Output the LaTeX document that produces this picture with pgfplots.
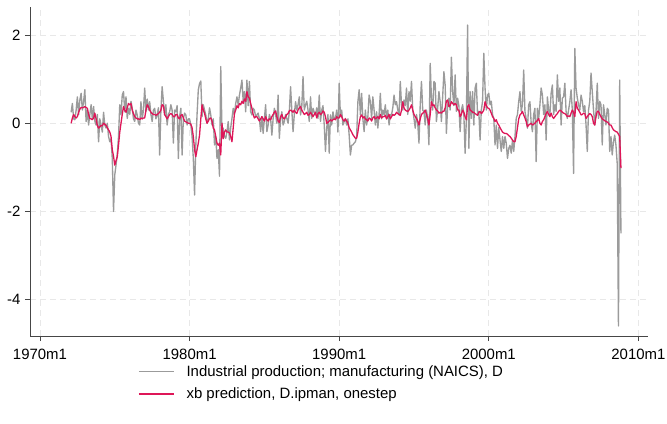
\documentclass[border=0pt]{standalone}
\usepackage{fontspec}
\setmainfont{Liberation Sans}
\usepackage{pgfplots}
\pgfplotsset{compat=1.18}
\usepackage{pgfplotstable}

\definecolor{lineGray}{RGB}{155,155,155}
\definecolor{predRed}{RGB}{222,22,88}
\definecolor{gridGray}{RGB}{232,232,232}
\definecolor{axisGray}{RGB}{70,70,70}

% D.ipman, monthly, 1972m2 .. 2008m11 (one line per year)
\pgfplotstableread[row sep=\\]{
v\\
0.25\\ 0.45\\ 0.1\\ 0.08\\ 0.3\\ 0.6\\ 0.2\\ 0.53\\ 0.68\\ 0.3\\ 0.5\\
0.76\\ 0.04\\ 0.3\\ -0.04\\ 0.2\\ 0.42\\ 0.1\\ 0.38\\ 0.05\\ -0.04\\ 0.2\\ -0.42\\
0.1\\ -0.04\\ -0.2\\ 0.25\\ -0.04\\ -0.11\\ 0.0\\ -0.3\\ -0.42\\ -0.35\\ -0.8\\ -2.0\\
-1.17\\ -0.95\\ -0.7\\ -0.3\\ 0.42\\ 0.2\\ 0.64\\ 0.72\\ 0.26\\ 0.6\\ 0.11\\ 0.34\\
0.2\\ 0.5\\ 0.34\\ 0.1\\ 0.04\\ 0.3\\ 0.19\\ 0.0\\ -0.04\\ 0.49\\ 0.1\\ 0.3\\
0.8\\ 0.26\\ 0.55\\ 0.3\\ 0.49\\ 0.2\\ 0.04\\ 0.3\\ 0.34\\ 0.1\\ 0.19\\ 0.35\\
-0.72\\ 0.3\\ 0.83\\ 0.5\\ 0.19\\ 0.42\\ -0.04\\ 0.2\\ 0.26\\ 0.42\\ 0.3\\ -0.45\\
0.3\\ 0.26\\ 0.4\\ -0.8\\ 0.15\\ 0.34\\ -0.72\\ 0.1\\ 0.23\\ 0.19\\ -0.04\\ 0.1\\
0.1\\ -0.04\\ -0.3\\ -0.8\\ -1.63\\ -0.5\\ 0.2\\ 0.76\\ 0.9\\ 0.96\\ 0.15\\ 0.42\\
0.3\\ 0.19\\ 0.0\\ 0.1\\ 0.35\\ 0.19\\ -0.04\\ 0.1\\ -0.49\\ -0.3\\ -0.8\\ -0.6\\
-1.2\\ 1.29\\ -0.19\\ -0.11\\ -0.3\\ -0.34\\ -0.19\\ 0.04\\ -0.38\\ -0.1\\ 0.11\\ 0.34\\
0.2\\ 0.45\\ 0.6\\ 0.42\\ 0.64\\ 0.8\\ 0.98\\ 0.5\\ 0.72\\ 0.26\\ 0.98\\ 0.4\\
0.95\\ 0.26\\ 0.19\\ 0.34\\ 0.3\\ 0.15\\ 0.19\\ 0.23\\ 0.1\\ -0.19\\ 0.15\\ -0.23\\
0.1\\ 0.42\\ -0.19\\ -0.04\\ 0.2\\ 0.11\\ -0.27\\ 0.1\\ 0.34\\ 0.2\\ 0.0\\ 0.64\\
-0.34\\ 0.1\\ 0.26\\ -0.04\\ 0.04\\ 0.2\\ 0.11\\ 0.0\\ 0.26\\ 0.83\\ 0.3\\ -0.19\\
0.2\\ 0.49\\ 0.3\\ 0.42\\ 0.6\\ 0.19\\ 0.38\\ 1.06\\ 0.3\\ 0.42\\ 0.5\\ 0.3\\
0.04\\ 0.6\\ 0.11\\ 0.34\\ 0.25\\ 0.19\\ 0.35\\ 0.11\\ 0.64\\ 0.04\\ 0.3\\ 0.4\\
-0.04\\ -0.64\\ -0.11\\ 0.2\\ -0.68\\ 0.19\\ -0.04\\ 0.26\\ 0.1\\ 0.11\\ 0.3\\ -0.2\\
0.91\\ 0.15\\ 0.3\\ -0.04\\ 0.04\\ 0.11\\ -0.04\\ 0.1\\ -0.27\\ -0.72\\ -0.5\\ -0.49\\
-0.45\\ -0.42\\ -0.3\\ 0.49\\ 0.76\\ 0.19\\ 0.68\\ 0.1\\ -0.19\\ 0.3\\ -0.04\\ 0.15\\
0.64\\ 0.49\\ 0.11\\ 0.6\\ 0.3\\ -0.04\\ 0.26\\ -0.11\\ 0.2\\ 0.68\\ 0.1\\ 0.3\\
0.19\\ 0.42\\ 0.1\\ 0.3\\ -0.04\\ 0.2\\ 0.19\\ 0.35\\ 0.64\\ 0.42\\ 0.49\\ 0.3\\
0.19\\ 0.95\\ 0.42\\ 0.3\\ 0.53\\ 0.4\\ 0.8\\ 0.2\\ 0.72\\ 0.5\\ 0.95\\ 0.3\\
0.11\\ -0.11\\ 0.2\\ 0.0\\ -0.45\\ 0.42\\ 0.95\\ 0.3\\ 0.26\\ -0.04\\ 0.3\\ 0.1\\
-0.49\\ 1.36\\ 0.57\\ 0.3\\ 0.95\\ 0.91\\ 0.04\\ 0.34\\ 0.72\\ 0.49\\ 0.04\\ 0.6\\
1.17\\ 0.87\\ -0.23\\ 0.4\\ 0.57\\ 0.3\\ 1.5\\ 0.72\\ 0.4\\ 1.1\\ 0.27\\ 0.57\\
0.4\\ -0.19\\ 0.3\\ 0.42\\ 0.2\\ -0.68\\ 0.08\\ 2.23\\ -0.57\\ 0.72\\ 0.11\\ 0.72\\
-0.04\\ 0.8\\ 0.91\\ 0.19\\ 0.27\\ -0.38\\ 0.3\\ 0.5\\ 1.59\\ 0.8\\ 0.3\\ 0.64\\
0.68\\ 0.42\\ 0.5\\ 0.2\\ 0.11\\ -0.49\\ -0.04\\ -0.57\\ -0.1\\ -0.38\\ -0.64\\ -0.3\\
-0.57\\ -0.3\\ -0.45\\ -0.8\\ -0.57\\ -0.5\\ -0.68\\ -0.38\\ -0.64\\ -0.3\\ 0.11\\ 0.2\\
0.49\\ 0.72\\ 0.27\\ 0.42\\ 1.21\\ 0.27\\ 0.1\\ -0.11\\ 0.42\\ 0.49\\ 0.0\\ -0.19\\
0.2\\ 0.34\\ -0.87\\ 0.34\\ 0.1\\ 0.42\\ 0.8\\ 0.64\\ 0.2\\ 0.42\\ -0.38\\ 0.6\\
0.3\\ 0.19\\ 0.68\\ 0.87\\ 0.2\\ 0.42\\ 0.27\\ 1.1\\ 0.5\\ 0.8\\ -0.04\\ 0.57\\
0.6\\ 0.91\\ 0.27\\ 0.11\\ 0.3\\ 0.49\\ 0.76\\ 0.3\\ -1.14\\ 1.7\\ 0.8\\ 0.57\\
0.42\\ 0.3\\ 0.64\\ 0.5\\ 0.26\\ 0.4\\ -0.04\\ -0.64\\ 0.3\\ 0.5\\ 1.14\\ 0.72\\
0.3\\ -0.04\\ 0.27\\ 0.91\\ 0.11\\ 0.5\\ 0.42\\ -0.49\\ 0.42\\ 0.2\\ -0.04\\ 0.34\\
0.3\\ -0.64\\ -0.3\\ -0.72\\ -0.42\\ -0.27\\ -0.5\\ -0.91\\ -4.6\\ 0.98\\ -2.5\\
}\ipman

% xb prediction, onestep, same months
\pgfplotstableread[row sep=\\]{
v\\
0.0\\ 0.12\\ 0.2\\ 0.15\\ 0.12\\ 0.15\\ 0.25\\ 0.32\\ 0.36\\ 0.35\\ 0.36\\
0.38\\ 0.36\\ 0.34\\ 0.2\\ 0.11\\ 0.1\\ 0.08\\ 0.12\\ 0.23\\ 0.1\\ -0.05\\ -0.11\\
-0.08\\ -0.05\\ -0.06\\ 0.0\\ -0.02\\ -0.05\\ -0.1\\ -0.15\\ -0.2\\ -0.3\\ -0.6\\ -0.75\\
-0.95\\ -0.85\\ -0.76\\ -0.5\\ -0.2\\ 0.0\\ 0.2\\ 0.38\\ 0.3\\ 0.25\\ 0.35\\ 0.45\\
0.42\\ 0.45\\ 0.3\\ 0.22\\ 0.15\\ 0.12\\ 0.1\\ 0.1\\ 0.08\\ 0.12\\ 0.1\\ 0.12\\
0.12\\ 0.3\\ 0.42\\ 0.38\\ 0.3\\ 0.25\\ 0.22\\ 0.2\\ 0.2\\ 0.18\\ 0.2\\ 0.22\\
0.25\\ 0.3\\ 0.42\\ 0.4\\ 0.2\\ 0.15\\ 0.1\\ 0.15\\ 0.2\\ 0.22\\ 0.2\\ 0.15\\
0.15\\ 0.2\\ 0.2\\ 0.12\\ 0.1\\ 0.18\\ 0.2\\ 0.12\\ 0.05\\ 0.03\\ 0.02\\ 0.0\\
0.0\\ -0.02\\ -0.1\\ -0.3\\ -0.6\\ -0.76\\ -0.6\\ -0.45\\ -0.27\\ 0.1\\ 0.42\\ 0.3\\
0.23\\ 0.1\\ 0.0\\ 0.05\\ 0.11\\ 0.12\\ 0.05\\ -0.11\\ -0.15\\ -0.3\\ -0.45\\ -0.5\\
-0.45\\ -0.72\\ 0.0\\ -0.35\\ -0.2\\ -0.15\\ -0.2\\ -0.2\\ -0.22\\ -0.3\\ -0.42\\ -0.1\\
0.23\\ 0.3\\ 0.4\\ 0.35\\ 0.45\\ 0.42\\ 0.5\\ 0.45\\ 0.55\\ 0.5\\ 0.72\\ 0.6\\
0.57\\ 0.45\\ 0.34\\ 0.2\\ 0.12\\ 0.15\\ 0.15\\ 0.1\\ 0.05\\ 0.1\\ 0.15\\ 0.1\\
0.05\\ 0.15\\ 0.08\\ 0.05\\ 0.1\\ 0.08\\ 0.15\\ 0.2\\ 0.25\\ 0.28\\ 0.15\\ 0.05\\
0.02\\ 0.15\\ 0.2\\ 0.12\\ 0.1\\ 0.15\\ 0.2\\ 0.22\\ 0.28\\ 0.3\\ 0.28\\ 0.25\\
0.3\\ 0.25\\ 0.22\\ 0.3\\ 0.35\\ 0.38\\ 0.3\\ 0.25\\ 0.2\\ 0.22\\ 0.25\\ 0.18\\
0.2\\ 0.25\\ 0.2\\ 0.15\\ 0.2\\ 0.25\\ 0.12\\ 0.22\\ 0.25\\ 0.2\\ 0.22\\ 0.28\\
0.25\\ 0.15\\ 0.0\\ 0.02\\ 0.05\\ 0.08\\ 0.05\\ 0.08\\ 0.1\\ 0.08\\ 0.15\\ 0.12\\
0.12\\ 0.2\\ 0.15\\ 0.08\\ 0.05\\ 0.1\\ 0.05\\ 0.0\\ -0.1\\ -0.15\\ -0.2\\ -0.26\\
-0.3\\ -0.34\\ -0.34\\ -0.2\\ 0.0\\ 0.15\\ 0.19\\ 0.12\\ 0.15\\ 0.1\\ 0.08\\ 0.05\\
0.12\\ 0.1\\ 0.05\\ 0.12\\ 0.15\\ 0.1\\ 0.12\\ 0.15\\ 0.1\\ 0.2\\ 0.12\\ 0.15\\
0.15\\ 0.18\\ 0.1\\ 0.15\\ 0.2\\ 0.1\\ 0.15\\ 0.2\\ 0.18\\ 0.2\\ 0.25\\ 0.22\\
0.2\\ 0.18\\ 0.3\\ 0.49\\ 0.35\\ 0.3\\ 0.28\\ 0.27\\ 0.3\\ 0.35\\ 0.42\\ 0.3\\
0.2\\ 0.15\\ 0.11\\ 0.05\\ -0.04\\ 0.1\\ 0.2\\ 0.23\\ 0.25\\ 0.3\\ 0.2\\ 0.1\\
-0.04\\ 0.2\\ 0.49\\ 0.4\\ 0.42\\ 0.35\\ 0.3\\ 0.28\\ 0.23\\ 0.25\\ 0.23\\ 0.27\\
0.27\\ 0.35\\ 0.5\\ 0.53\\ 0.38\\ 0.4\\ 0.49\\ 0.45\\ 0.42\\ 0.45\\ 0.42\\ 0.3\\
0.3\\ 0.15\\ 0.2\\ 0.3\\ 0.25\\ 0.15\\ 0.08\\ 0.38\\ 0.42\\ 0.3\\ 0.28\\ 0.25\\
0.25\\ 0.22\\ 0.2\\ 0.18\\ 0.25\\ 0.27\\ 0.22\\ 0.25\\ 0.3\\ 0.49\\ 0.4\\ 0.35\\
0.34\\ 0.3\\ 0.23\\ 0.15\\ 0.11\\ 0.04\\ 0.08\\ 0.0\\ -0.04\\ -0.1\\ -0.15\\ -0.2\\
-0.22\\ -0.23\\ -0.23\\ -0.25\\ -0.28\\ -0.3\\ -0.34\\ -0.38\\ -0.42\\ -0.42\\ -0.3\\ -0.1\\
0.1\\ 0.19\\ 0.22\\ 0.27\\ 0.19\\ 0.12\\ 0.04\\ -0.08\\ -0.04\\ -0.02\\ 0.0\\ -0.04\\
-0.02\\ 0.0\\ 0.04\\ 0.06\\ 0.11\\ 0.0\\ -0.04\\ 0.04\\ 0.08\\ 0.15\\ 0.22\\ 0.27\\
0.2\\ 0.15\\ 0.23\\ 0.15\\ 0.11\\ 0.15\\ 0.19\\ 0.22\\ 0.27\\ 0.3\\ 0.28\\ 0.25\\
0.23\\ 0.22\\ 0.19\\ 0.15\\ 0.17\\ 0.15\\ 0.23\\ 0.3\\ 0.25\\ 0.15\\ 0.49\\ 0.34\\
0.3\\ 0.25\\ 0.19\\ 0.2\\ 0.23\\ 0.22\\ 0.11\\ 0.15\\ 0.19\\ 0.22\\ 0.2\\ 0.15\\
0.0\\ -0.04\\ 0.15\\ 0.27\\ 0.27\\ 0.2\\ 0.15\\ 0.1\\ 0.08\\ 0.06\\ 0.04\\ 0.03\\
0.0\\ -0.04\\ -0.04\\ -0.1\\ -0.15\\ -0.17\\ -0.19\\ -0.2\\ -0.25\\ -0.3\\ -1.02\\
}\pred

\begin{document}
\begin{tikzpicture}
\useasboundingbox (0,0) rectangle (667bp,424bp);
\begin{axis}[
    at={(30bp,88bp)}, anchor=south west,
    scale only axis,
    width=618bp, height=329bp,
    xmin=112, xmax=607.7,
    ymin=-4.83, ymax=2.64,
    axis x line*=bottom, axis y line*=left,
    axis line style={color=axisGray, line width=0.9bp},
    xtick={120,240,360,480,600},
    xticklabels={1970m1,1980m1,1990m1,2000m1,2010m1},
    ytick={-4,-2,0,2},
    yticklabels={-4,-2,0,2},
    tick align=outside,
    major tick length=5bp,
    tick style={color=axisGray, line width=0.9bp},
    grid=major,
    major grid style={color=gridGray, dash pattern=on 6bp off 4bp, line width=0.9bp},
    ticklabel style={font=\fontsize{15}{17}\selectfont},
    yticklabel style={xshift=-1bp},
    xticklabel style={yshift=-5bp},
    legend style={at={(0.1748,-0.083)}, anchor=north west, draw=none, fill=none,
        font=\fontsize{15}{17}\selectfont, row sep=6bp, column sep=10bp,
        inner sep=0pt, cells={anchor=west}},
    legend image code/.code={\draw[#1] (0bp,0bp) -- (35bp,0bp);},
]
\addplot[lineGray, line width=1.35bp, line join=round] table[x expr=\coordindex+145, y=v] {\ipman};
\addlegendentry{Industrial production; manufacturing (NAICS), D}
\addplot[predRed, line width=1.3bp, line join=round] table[x expr=\coordindex+145, y=v] {\pred};
\addlegendentry{xb prediction, D.ipman, onestep}
\end{axis}
\end{tikzpicture}
\end{document}
